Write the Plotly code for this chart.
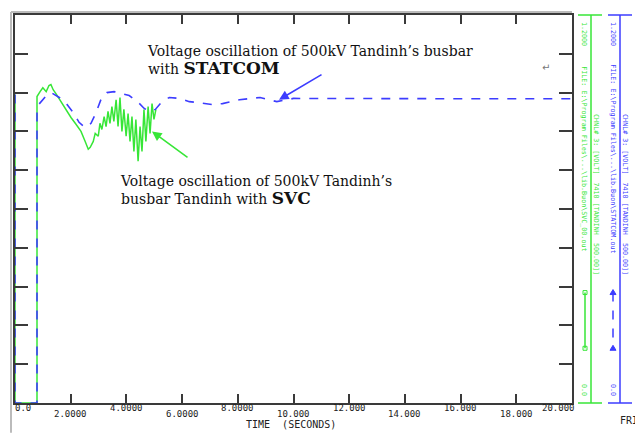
import plotly.graph_objects as go

# PSS/E style plot: bus voltage (pu) after fault, STATCOM vs SVC
time_statcom = [0, 0, 0.79, 0.79, 0.85, 0.94, 1.1, 1.3, 1.47, 1.65, 1.87, 2.12, 2.3, 2.52,
                2.73, 2.91, 3.1, 3.3, 3.56, 3.8, 4.1, 4.4, 4.64, 4.82, 5.04, 5.25, 5.54,
                5.9, 6.26, 6.6, 7.1, 7.45, 8.06, 8.8, 9.4, 10.0, 12.0, 14.0, 16.0, 18.0, 20.0]
volt_statcom = [0.954, 0, 0, 0.902, 0.923, 0.932, 0.948, 0.960, 0.951, 0.942, 0.923, 0.895,
                0.868, 0.852, 0.865, 0.898, 0.942, 0.960, 0.963, 0.957, 0.951, 0.932, 0.911,
                0.902, 0.908, 0.929, 0.945, 0.942, 0.932, 0.929, 0.923, 0.926, 0.938, 0.945,
                0.932, 0.942, 0.941, 0.941, 0.941, 0.941, 0.941]

time_svc = [0, 0, 0.79, 0.79, 0.9, 1.0, 1.12, 1.22, 1.29, 1.37, 1.47, 1.65, 1.83, 2.01, 2.19,
            2.37, 2.52, 2.63, 2.7, 2.81, 2.88, 2.99, 3.05, 3.12, 3.2, 3.27, 3.34, 3.41, 3.48,
            3.55, 3.63, 3.7, 3.77, 3.84, 3.91, 3.99, 4.06, 4.13, 4.2, 4.27, 4.34, 4.42, 4.49,
            4.56, 4.63, 4.7, 4.78, 4.85, 4.92, 4.99, 5.06]
volt_svc = [0.954, 0, 0, 0.948, 0.963, 0.975, 0.963, 0.982, 0.985, 0.969, 0.957, 0.932, 0.908,
            0.883, 0.862, 0.840, 0.809, 0.785, 0.791, 0.809, 0.834, 0.825, 0.865, 0.846, 0.886,
            0.855, 0.902, 0.865, 0.917, 0.871, 0.938, 0.855, 0.945, 0.840, 0.908, 0.825, 0.895,
            0.809, 0.886, 0.778, 0.877, 0.748, 0.855, 0.778, 0.908, 0.809, 0.917, 0.834, 0.926,
            0.877, 0.908]

x_ticks = [0, 2, 4, 6, 8, 10, 12, 14, 16, 18, 20]
x_tick_labels = ["0.0", "2.0000", "4.0000", "6.0000", "8.0000", "10.000",
                 "12.000", "14.000", "16.000", "18.000", "20.000"]

BLUE = "rgb(60,60,255)"
GREEN = "rgb(55,230,55)"
AXIS = "#3a3a3a"
MONO = "DejaVu Sans Mono"
SERIF = "DejaVu Serif"

# the page body has an 8px margin, so the figure is 8px smaller
OFF = 8

# page pixel -> paper helpers (plot box on the page is x 15..572, y 13..403)
def px(x):
    return (x - 15) / 557.0

def py(y):
    return (403 - y) / 390.0

def label(x, y, text, font, angle=0, xanchor="center", yanchor="middle"):
    return dict(x=px(x), y=py(y), xref="paper", yref="paper", text=text, showarrow=False,
                xanchor=xanchor, yanchor=yanchor, textangle=angle, font=font, align="left")

fig = go.Figure()
fig.add_trace(go.Scatter(x=time_svc, y=volt_svc, mode="lines",
                         line=dict(color=GREEN, width=1.5), name="SVC"))
fig.add_trace(go.Scatter(x=time_statcom, y=volt_statcom, mode="lines",
                         line=dict(color=BLUE, width=1.6, dash="dash"), name="STATCOM"))

annotations = []
# staggered time labels
tick_font = dict(family=MONO, size=9, color="#222")
for i, (t, lab) in enumerate(zip(x_ticks, x_tick_labels)):
    annotations.append(dict(x=t, xref="x", y=py(408 if i % 2 == 0 else 414), yref="paper",
                            text=lab, showarrow=False, xanchor="center", yanchor="middle",
                            font=tick_font))
annotations[0]["x"] = 0.3
annotations[-1]["x"] = 19.5
annotations.append(label(291, 425, "TIME  (SECONDS)", dict(family=MONO, size=10, color="#222")))
annotations.append(label(629, 421, "FRI", dict(family=MONO, size=10, color="#222")))

# callout texts
txt = dict(family=SERIF, size=14, color="#111")
annotations.append(label(145, 39, "Voltage oscillation of 500kV Tandinh’s busbar<br>"
                         "with <b><span style='font-size:17px'>STATCOM</span></b>",
                         txt, xanchor="left", yanchor="top"))
annotations.append(label(118, 170, "Voltage oscillation of 500kV Tandinh’s<br>"
                         "busbar Tandinh with <b><span style='font-size:17px'>SVC</span></b>",
                         txt, xanchor="left", yanchor="top"))
annotations.append(label(546, 66, "↵", dict(family="DejaVu Sans", size=10, color="#777")))

# arrows
annotations.append(dict(x=9.48, y=0.938, xref="x", yref="y", ax=44, ay=-26, text="",
                        showarrow=True, arrowhead=2, arrowsize=1.2, arrowwidth=1.6, arrowcolor=BLUE))
annotations.append(dict(x=4.92, y=0.840, xref="x", yref="y", ax=37, ay=27, text="",
                        showarrow=True, arrowhead=2, arrowsize=1.2, arrowwidth=1.6, arrowcolor=GREEN))

# right-hand channel scales (rotated text)
chan = "CHNL# 3: [VOLT]  7410 [TANDINH  500.00]]"
for xl, xr, color, fname in [(584, 596, GREEN, "FILE: E:\\Program Files\\...\\lib.Buon\\SVC_00.out"),
                             (613, 625, BLUE, "FILE: E:\\Program Files\\...\\lib.Buon\\STATCOM.out")]:
    f = dict(family=MONO, size=6.7, color=color)
    annotations.append(label(xl, 32, "1.2000", f, angle=90))
    annotations.append(label(xl, 157, fname, f, angle=90))
    annotations.append(label(xl, 390, "0.0", f, angle=90))
    annotations.append(label(xr, 193, chan, f, angle=90))

shapes = []
# outer grey frame
shapes.append(dict(type="line", xref="paper", yref="paper", x0=px(11), x1=px(11), y0=py(10), y1=py(433),
                   line=dict(color="#bbb", width=2)))
shapes.append(dict(type="line", xref="paper", yref="paper", x0=px(11), x1=px(572), y0=py(10), y1=py(10),
                   line=dict(color="#bbb", width=2)))
for xa, x0, x1, color in [(591, 578, 602, GREEN), (620, 608, 632, BLUE)]:
    shapes.append(dict(type="line", xref="paper", yref="paper", x0=px(xa), x1=px(xa), y0=0, y1=1,
                       line=dict(color=color, width=1.5)))
    shapes.append(dict(type="line", xref="paper", yref="paper", x0=px(x0), x1=px(x1), y0=0, y1=0,
                       line=dict(color=color, width=1.5)))
    shapes.append(dict(type="line", xref="paper", yref="paper", x0=px(x0), x1=px(x1), y0=1, y1=1,
                       line=dict(color=color, width=1.5)))
# legend samples next to each scale
shapes.append(dict(type="line", xref="paper", yref="paper", x0=px(585), x1=px(585), y0=py(292), y1=py(348),
                   line=dict(color=GREEN, width=1.5)))
shapes.append(dict(type="line", xref="paper", yref="paper", x0=px(613), x1=px(613), y0=py(292), y1=py(348),
                   line=dict(color=BLUE, width=1.5, dash="dash")))
for yy in (292, 348):
    shapes.append(dict(type="rect", xref="paper", yref="paper", x0=px(583), x1=px(587),
                       y0=py(yy + 2), y1=py(yy - 2), line=dict(color=GREEN, width=1)))
    shapes.append(dict(type="path", xref="paper", yref="paper",
                       path=f"M {px(610)} {py(yy + 2)} L {px(616)} {py(yy + 2)} L {px(613)} {py(yy - 3)} Z",
                       fillcolor=BLUE, line=dict(color=BLUE, width=1)))

fig.update_layout(
    width=643 - OFF, height=433 - OFF,
    margin=dict(l=15 - OFF, r=643 - 572, t=13 - OFF, b=433 - 403),
    paper_bgcolor="white", plot_bgcolor="white",
    showlegend=False,
    xaxis=dict(range=[0, 20], tickvals=x_ticks, showticklabels=False, ticks="inside", ticklen=9,
               tickcolor=AXIS, tickwidth=1.5, showline=True, linecolor=AXIS, linewidth=1.5,
               mirror="allticks", showgrid=False, zeroline=False),
    yaxis=dict(range=[0, 1.2], dtick=0.12, showticklabels=False, ticks="inside", ticklen=13,
               tickcolor=AXIS, tickwidth=1.5, showline=True, linecolor=AXIS, linewidth=1.5,
               mirror="allticks", showgrid=False, zeroline=False),
    annotations=annotations,
    shapes=shapes,
)

fig.write_html("out.html")
